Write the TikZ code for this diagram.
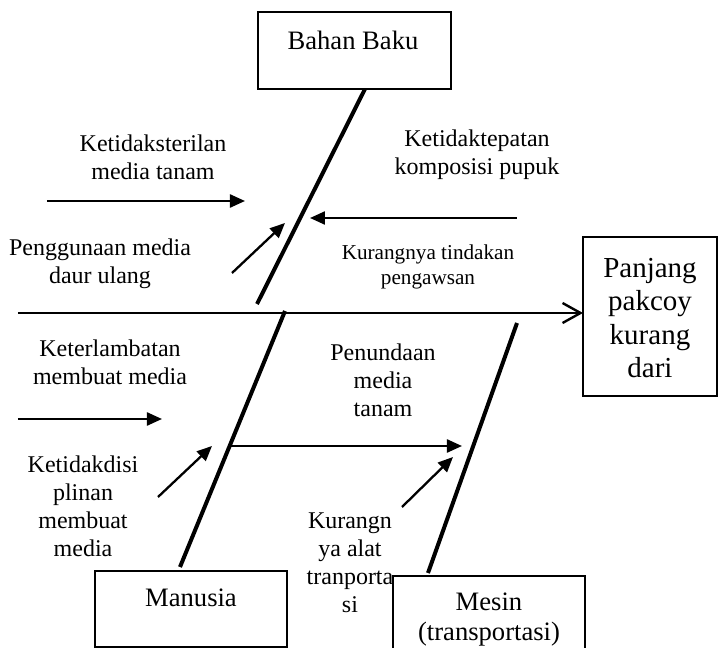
\documentclass[tikz,border=0pt]{standalone}
\usepackage{fontspec}
\setmainfont{Liberation Serif}
\usetikzlibrary{arrows.meta}
\tikzset{
  lbl/.style={align=center, inner sep=0pt, font=\fontsize{12}{14}\selectfont},
  smalllbl/.style={align=center, inner sep=0pt, font=\fontsize{10.6}{12.5}\selectfont},
  boxtxt/.style={align=center, inner sep=0pt, font=\fontsize{13.3}{15}\selectfont},
  efftxt/.style={align=center, inner sep=0pt, font=\fontsize{14.5}{16.6}\selectfont},
  frame/.style={draw, line width=0.75pt, inner sep=0pt},
  spine/.style={line width=2pt},
  mainline/.style={line width=1.2pt, -{Straight Barb[length=9pt, width=10pt, line width=1.2pt]}},
  cause/.style={line width=1.15pt, -{Triangle[length=7.5pt, width=6.5pt]}},
}
\begin{document}
\begin{tikzpicture}[x=0.5pt, y=-0.5pt]
\useasboundingbox (0,0) rectangle (720,648);

% category boxes
\node[frame, minimum width=96.5pt, minimum height=38.5pt] (bahan) at (354.5,50.5) {};
\node[boxtxt] (bahantxt) at (353,40) {Bahan Baku};
\node[frame, minimum width=96pt, minimum height=38pt] (manusia) at (191,609) {};
\node[boxtxt] (manusiatxt) at (191,598) {Manusia};
\node[frame, minimum width=96pt, minimum height=40pt] (mesin) at (489,616) {};
\node[boxtxt] (mesintxt) at (489,620) {Mesin\\(transportasi)};
\node[frame, minimum width=67pt, minimum height=79.5pt] (effect) at (650,316.5) {};
\node[efftxt] (efftext) at (650,318) {Panjang\\pakcoy\\kurang\\dari};

% labels
\node[lbl] (kst) at (153,157) {Ketidaksterilan\\media tanam};
\node[lbl] (ktp) at (477,155) {Ketidaktepatan\\komposisi pupuk};
\node[lbl] (pmd) at (100,264) {Penggunaan media\\daur ulang};
\node[smalllbl] (ktd) at (428,267) {Kurangnya tindakan\\pengawsan};
\node[lbl] (ktl) at (110,362) {Keterlambatan\\membuat media};
\node[lbl] (pnd) at (383,380) {Penundaan\\media\\tanam};
\node[lbl] (kdp) at (83,506) {Ketidakdisi\\plinan\\membuat\\media};
\node[lbl] (kat) at (350,563) {Kurangn\\ya alat\\tranporta\\si};

% spine coordinates
\coordinate (mainS) at (18,313);
\coordinate (effIn) at (583,313);
\coordinate (bbTop) at (365,89);
\coordinate (bbBot) at (257,304);
\coordinate (muTop) at (285,311);
\coordinate (muBot) at (180,567);
\coordinate (meTop) at (517,323);
\coordinate (meBot) at (428,573);

\draw[mainline] (mainS) -- (effIn);
\draw[spine] (bbTop) -- (bbBot);
\draw[spine] (muTop) -- (muBot);
\draw[spine] (meTop) -- (meBot);

% cause arrows
\coordinate (a1s) at (47,201);  \coordinate (a1e) at (245,201);
\coordinate (a2s) at (232,273); \coordinate (a2e) at (285,223);
\coordinate (a3s) at (517,218); \coordinate (a3e) at (310,218);
\coordinate (a4s) at (18,419);  \coordinate (a4e) at (162,419);
\coordinate (a5s) at (231,446); \coordinate (a5e) at (462,446);
\coordinate (a6s) at (158,497); \coordinate (a6e) at (212,446);
\coordinate (a7s) at (402,507); \coordinate (a7e) at (453,457);

\draw[cause] (a1s) -- (a1e);
\draw[cause] (a2s) -- (a2e);
\draw[cause] (a3s) -- (a3e);
\draw[cause] (a4s) -- (a4e);
\draw[cause] (a5s) -- (a5e);
\draw[cause] (a6s) -- (a6e);
\draw[cause] (a7s) -- (a7e);
\end{tikzpicture}
\end{document}
